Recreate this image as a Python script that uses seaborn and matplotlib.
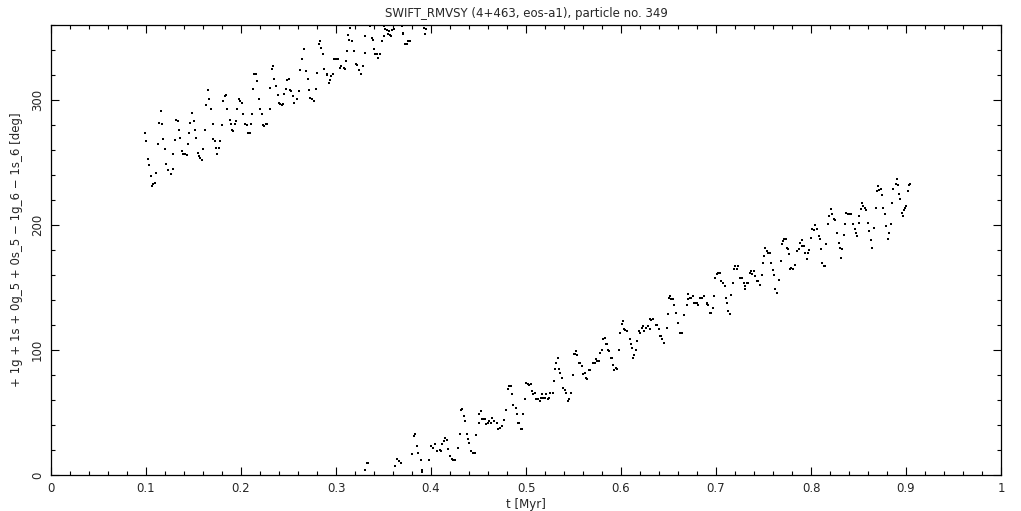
import numpy as np
import pandas as pd
import matplotlib
matplotlib.use("Agg")
import matplotlib.pyplot as plt
from matplotlib.ticker import MultipleLocator
import seaborn as sns

# resonant angle (deg); the angle wraps at 360 so it comes in two bands
t_upper = [0.0993, 0.1003, 0.1024, 0.1035, 0.1056, 0.1066, 0.1077, 0.1098, 0.111, 0.113,
           0.114, 0.116, 0.117, 0.118, 0.120, 0.121, 0.1235, 0.1266, 0.128, 0.1287,
           0.131, 0.132, 0.134, 0.135, 0.136, 0.138, 0.139, 0.141, 0.143, 0.1445,
           0.1456, 0.1466, 0.1487, 0.150, 0.152, 0.153, 0.155, 0.156, 0.157, 0.159,
           0.160, 0.162, 0.1635, 0.1656, 0.1666, 0.168, 0.170, 0.171, 0.173, 0.174,
           0.175, 0.177, 0.178, 0.180, 0.181, 0.1835, 0.1845, 0.1856, 0.188, 0.189,
           0.191, 0.192, 0.194, 0.195, 0.196, 0.198, 0.199, 0.201, 0.202, 0.204,
           0.206, 0.207, 0.209, 0.210, 0.212, 0.213, 0.214, 0.216, 0.217, 0.219,
           0.220, 0.222, 0.2235, 0.2245, 0.2266, 0.2277, 0.230, 0.231, 0.233, 0.234,
           0.235, 0.237, 0.2385, 0.2403, 0.2414, 0.2435, 0.2445, 0.2456, 0.2477, 0.2487,
           0.251, 0.252, 0.253, 0.255, 0.256, 0.259, 0.261, 0.2624, 0.2645, 0.2662,
           0.268, 0.270, 0.272, 0.273, 0.275, 0.277, 0.279, 0.280, 0.2824, 0.2835,
           0.2845, 0.2866, 0.2877, 0.290, 0.291, 0.293, 0.294, 0.295, 0.297, 0.298,
           0.300, 0.302, 0.3045, 0.3056, 0.308, 0.309, 0.311, 0.312, 0.313, 0.314,
           0.315, 0.317, 0.319, 0.321, 0.322, 0.3245, 0.3266, 0.328, 0.330, 0.331,
           0.336, 0.338, 0.339, 0.3404, 0.341, 0.343, 0.344, 0.346, 0.348, 0.350,
           0.351, 0.352, 0.354, 0.355, 0.356, 0.357, 0.358, 0.359, 0.361, 0.369,
           0.370, 0.371, 0.373, 0.375, 0.376, 0.378, 0.393, 0.394, 0.395]
phi_upper = [274, 267, 253, 248, 239, 231, 233, 234, 242, 265,
             282, 291, 281, 269, 261, 249, 244, 241, 245, 257,
             268, 284, 283, 276, 270, 259, 257, 257, 256, 265,
             274, 282, 290, 283, 276, 270, 258, 255, 254, 252,
             261, 276, 296, 308, 301, 293, 281, 269, 267, 262,
             257, 262, 267, 280, 299, 303, 304, 293, 284, 281,
             276, 275, 281, 283, 293, 301, 299, 298, 289, 281,
             280, 274, 274, 281, 289, 309, 321, 321, 315, 301,
             293, 289, 280, 279, 281, 281, 293, 310, 325, 327,
             317, 311, 304, 298, 297, 296, 297, 305, 309, 316,
             317, 308, 307, 303, 298, 301, 307, 324, 333, 341,
             323, 317, 308, 302, 301, 299, 309, 322, 345, 347,
             342, 337, 325, 321, 320, 314, 316, 319, 321, 333,
             333, 333, 326, 327, 326, 325, 331, 339, 352, 348,
             358, 347, 339, 329, 328, 324, 321, 327, 338, 351,
             359, 350, 348, 341, 337, 337, 334, 337, 347, 351,
             359, 357, 356, 353, 355, 352, 351, 356, 357, 359,
             354, 353, 345, 345, 347, 347, 358, 353, 357]

t_lower = [0.331, 0.333, 0.334, 0.362, 0.3646, 0.366, 0.368, 0.380, 0.3825, 0.3835,
           0.3856, 0.3866, 0.389, 0.390, 0.391, 0.398, 0.400, 0.402, 0.4045, 0.4066,
           0.409, 0.411, 0.412, 0.414, 0.415, 0.417, 0.418, 0.420, 0.4224, 0.4235,
           0.4256, 0.4287, 0.430, 0.432, 0.433, 0.435, 0.436, 0.4377, 0.439, 0.440,
           0.4424, 0.4445, 0.4466, 0.4477, 0.450, 0.451, 0.453, 0.454, 0.456, 0.457,
           0.458, 0.460, 0.461, 0.4635, 0.4645, 0.4666, 0.469, 0.471, 0.473, 0.475,
           0.477, 0.479, 0.481, 0.4824, 0.4845, 0.4856, 0.4866, 0.489, 0.490, 0.492,
           0.493, 0.495, 0.496, 0.497, 0.499, 0.500, 0.502, 0.5035, 0.5056, 0.5066,
           0.5077, 0.5098, 0.511, 0.513, 0.515, 0.516, 0.517, 0.518, 0.520, 0.521,
           0.5235, 0.5245, 0.5256, 0.528, 0.529, 0.531, 0.532, 0.534, 0.535, 0.536,
           0.538, 0.539, 0.541, 0.5425, 0.5445, 0.5456, 0.547, 0.549, 0.550, 0.552,
           0.553, 0.554, 0.556, 0.557, 0.559, 0.5603, 0.5624, 0.5635, 0.5645, 0.5666,
           0.5677, 0.570, 0.571, 0.573, 0.574, 0.575, 0.577, 0.578, 0.580, 0.5814,
           0.5835, 0.5845, 0.5856, 0.5866, 0.5877, 0.589, 0.591, 0.592, 0.593, 0.595,
           0.596, 0.598, 0.599, 0.601, 0.6024, 0.6035, 0.6045, 0.6066, 0.609, 0.610,
           0.612, 0.613, 0.614, 0.616, 0.617, 0.619, 0.620, 0.6224, 0.6235, 0.6245,
           0.6266, 0.628, 0.630, 0.631, 0.632, 0.634, 0.637, 0.638, 0.640, 0.641,
           0.642, 0.6435, 0.6456, 0.648, 0.649, 0.651, 0.652, 0.653, 0.655, 0.656,
           0.658, 0.660, 0.6625, 0.6645, 0.6666, 0.669, 0.670, 0.671, 0.673, 0.674,
           0.676, 0.677, 0.679, 0.680, 0.681, 0.6835, 0.6856, 0.6877, 0.690, 0.691,
           0.692, 0.694, 0.695, 0.697, 0.698, 0.699, 0.701, 0.7024, 0.7045, 0.7056,
           0.7077, 0.709, 0.710, 0.712, 0.713, 0.715, 0.716, 0.718, 0.719, 0.720,
           0.722, 0.7235, 0.7256, 0.7277, 0.729, 0.730, 0.731, 0.733, 0.734, 0.736,
           0.737, 0.738, 0.740, 0.741, 0.7435, 0.7445, 0.7466, 0.748, 0.749, 0.751,
           0.752, 0.754, 0.755, 0.757, 0.758, 0.760, 0.761, 0.7625, 0.7645, 0.766,
           0.768, 0.769, 0.770, 0.772, 0.7735, 0.775, 0.776, 0.777, 0.778, 0.779,
           0.781, 0.7835, 0.7856, 0.787, 0.788, 0.790, 0.791, 0.793, 0.794, 0.796,
           0.797, 0.798, 0.800, 0.801, 0.8035, 0.8045, 0.8066, 0.808, 0.809, 0.811,
           0.812, 0.814, 0.815, 0.816, 0.818, 0.819, 0.821, 0.822, 0.824, 0.825,
           0.827, 0.829, 0.830, 0.832, 0.833, 0.835, 0.836, 0.837, 0.839, 0.841,
           0.842, 0.844, 0.846, 0.847, 0.848, 0.850, 0.851, 0.853, 0.854, 0.855,
           0.857, 0.858, 0.860, 0.861, 0.863, 0.864, 0.866, 0.868, 0.869, 0.871,
           0.872, 0.874, 0.875, 0.8757, 0.878, 0.879, 0.881, 0.8824, 0.8845, 0.8856,
           0.8866, 0.889, 0.890, 0.892, 0.893, 0.894, 0.896, 0.897, 0.898, 0.899,
           0.900, 0.902, 0.9035, 0.9045]
phi_lower = [3.8, 9.3, 9.3, 7, 13, 11, 10, 17, 31, 33,
             23, 18, 12, 4, 2.5, 12, 23, 22, 25, 19,
             20, 19, 25, 27, 30, 28, 21, 15, 12.5, 12,
             12, 22, 33, 52, 53, 47, 43, 33, 29, 26,
             19, 17.6, 18, 32, 42, 49, 51, 45, 45, 45,
             40.5, 42, 43, 41.6, 46, 43, 42, 36.5, 38, 39,
             44, 52, 68.5, 71, 71, 64.6, 56, 54, 49, 42,
             41.6, 37, 36.5, 49, 60.6, 74, 73, 72, 73, 67,
             64.6, 65.4, 61, 60.6, 59, 62, 64.6, 62, 62, 65,
             61, 62, 66, 65.4, 75, 84.6, 89.4, 93.4, 84.6, 81.4,
             78, 70, 68, 65.6, 59, 60.6, 66, 80, 96.6, 96.6,
             99, 96, 90, 90, 87, 80.6, 81.4, 78, 76.6, 83.8,
             83.8, 90, 90, 89.4, 92.6, 91, 91, 98, 99.8, 108.6,
             110, 105, 105, 99.8, 99, 94, 94, 87.8, 83.8, 85.4,
             84.6, 99.8, 114, 120.6, 123, 117, 115.8, 115, 108.6, 105,
             102, 94, 96, 99.8, 107, 115, 114, 118, 119, 115,
             118, 119, 117, 124.6, 124, 124.6, 120, 120, 117, 111,
             111, 108.6, 106, 118, 128.6, 142, 143, 140.6, 140.6, 136,
             130, 121.4, 114, 113.4, 128, 136, 140.6, 144.6, 141.4, 141.4,
             143, 137.4, 137.4, 138, 136, 142, 141.4, 143, 138, 136.6,
             136, 130, 130, 134, 143, 158, 160.6, 162, 161.4, 155,
             154, 151, 141.4, 137.4, 131, 128.6, 144, 154, 165, 167,
             165, 167, 157.4, 157.4, 154, 151, 148.6, 154, 154, 162,
             163, 160.6, 163, 159, 155, 155, 152, 160, 170, 175,
             182, 179, 177.6, 177.6, 170, 164, 160, 148.6, 146, 156,
             171, 185, 187, 189, 189, 182, 180.6, 176.6, 165, 166,
             165, 168, 179, 180.6, 186, 188, 183, 183, 178, 172.6,
             177.6, 180, 190, 197, 196, 200, 197, 191, 189, 181,
             170, 167, 167, 185, 201, 207, 212.6, 208.6, 205, 204,
             194, 186, 182, 174, 181, 192, 200.6, 210, 209, 209,
             209, 200.6, 196.6, 194, 191, 202, 207, 212.6, 218, 215,
             213.4, 212, 202, 195, 188, 182, 198, 213.4, 227, 231,
             228, 229, 224, 213.4, 208.6, 199, 188.6, 194, 201, 218,
             229, 232.6, 236.6, 232, 224.6, 221, 210, 207, 212, 213.4,
             215, 227, 232, 233]

title = "SWIFT_RMVSY (4+463, eos-a1), particle no. 349"
ylabel = "+ 1g + 1s + 0g_5 + 0s_5 \u2212 1g_6 \u2212 1s_6 [deg]"
xlabel = "t [Myr]"

df = pd.DataFrame({
    "t": t_upper + t_lower,
    "phi": phi_upper + phi_lower,
})

sns.set_style("ticks")
plt.rcParams["font.family"] = ["DejaVu Sans"]

fig = plt.figure(figsize=(10.21, 5.11), dpi=100)
ax = fig.add_axes([51 / 1021, 36 / 511, 950 / 1021, 450 / 511])

# single-pixel dots like the original plotter output
sns.scatterplot(data=df, x="t", y="phi", ax=ax, color="black",
                marker="s", s=0.6, linewidth=0, antialiased=False, legend=False)

ax.set_xlim(0, 1)
ax.set_ylim(0, 360)
ax.xaxis.set_minor_locator(MultipleLocator(0.02))
ax.yaxis.set_major_locator(MultipleLocator(100))
ax.yaxis.set_minor_locator(MultipleLocator(20))
ax.set_xticks(np.arange(0, 1.01, 0.1))
ax.set_xticklabels(["0", "0.1", "0.2", "0.3", "0.4", "0.5", "0.6", "0.7", "0.8", "0.9", "1"])
ax.tick_params(which="both", direction="in", top=True, right=True,
               color="black", width=0.8, labelsize=8.5, pad=5)
ax.tick_params(which="major", length=5.5)
ax.tick_params(which="minor", length=3)
for lab in ax.get_yticklabels():
    lab.set_rotation(90)
    lab.set_va("center")
for s in ax.spines.values():
    s.set_linewidth(0.9)
    s.set_color("black")

ax.set_title(title, fontsize=8.5, pad=6)
ax.set_xlabel(xlabel, fontsize=8.5, labelpad=2)
ax.set_ylabel(ylabel, fontsize=8.5, labelpad=6)

fig.savefig("out.png", dpi=100, facecolor="white")
